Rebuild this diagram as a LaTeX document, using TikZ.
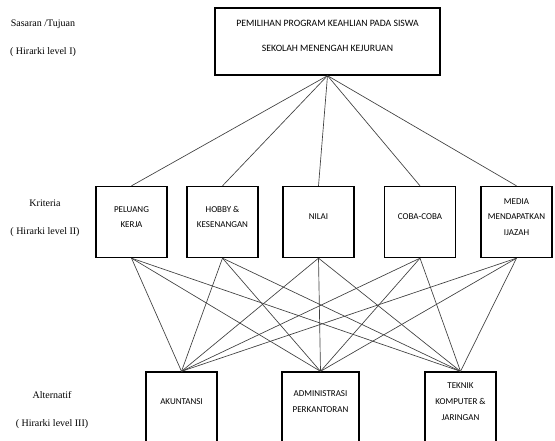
\documentclass[tikz,border=0pt]{standalone}
\usepackage{fontspec}
\setmainfont{Liberation Serif}
\newfontfamily\calibrifont{Carlito}
\usepackage{tikz}

\tikzset{
  kotak/.style={draw, line width=1pt, align=center, inner sep=0pt},
  garis/.style={draw=black!75, line width=0.5pt},
  labellevel/.style={align=center, font=\fontsize{7.5}{21}\selectfont},
  kriteria/.style={kotak, minimum width=53.25pt, minimum height=53.25pt, text depth=7.5pt,
    font=\calibrifont\fontsize{6.75}{11.6}\selectfont},
  alternatif/.style={kotak, minimum width=53.25pt, minimum height=67.5pt, text depth=22.5pt,
    font=\calibrifont\fontsize{6.75}{12}\selectfont},
}

\begin{document}
\begin{tikzpicture}[x=0.75pt,y=0.75pt,yscale=-1,xscale=1]
\useasboundingbox (0,0) rectangle (555,441);

% Text Node
\node (lvlI) [labellevel] at (43,38.5) {Sasaran /Tujuan\\( Hirarki level I)};
% Text Node
\node (lvlII) [labellevel] at (45,218) {Kriteria\\( Hirarki level II)};
% Text Node
\node (lvlIII) [labellevel] at (52,410) {Alternatif\\( Hirarki level III)};

%Shape: Rectangle
\node (tujuan) [kotak, minimum width=168.75pt, minimum height=50.25pt, text depth=9pt,
  font=\calibrifont\fontsize{7.3}{18.75}\selectfont] at (327.5,41.5)
  {PEMILIHAN PROGRAM KEAHLIAN PADA SISWA\\SEKOLAH MENENGAH KEJURUAN};

%Shape: Rectangle
\node (peluang) [kriteria] at (131.5,222) {PELUANG\\KERJA};
%Shape: Rectangle
\node (hobby) [kriteria] at (222.5,222) {HOBBY \&\\KESENANGAN};
%Shape: Rectangle
\node (nilai) [kriteria] at (318.5,222) {NILAI};
%Shape: Rectangle
\node (coba) [kriteria] at (420,222) {COBA-COBA};
%Shape: Rectangle
\node (media) [kriteria] at (516.5,222) {MEDIA\\MENDAPATKAN\\IJAZAH};

%Shape: Rectangle
\node (akuntansi) [alternatif] at (181.5,417) {AKUNTANSI};
%Shape: Rectangle
\node (adm) [alternatif, minimum width=57.75pt] at (320.5,417) {ADMINISTRASI\\PERKANTORAN};
%Shape: Rectangle
\node (tkj) [alternatif] at (460.5,417) {TEKNIK\\KOMPUTER \&\\JARINGAN};

%Straight Lines
\draw [garis] (tujuan.south) -- (peluang.north);
\draw [garis] (tujuan.south) -- (hobby.north);
\draw [garis] (tujuan.south) -- (nilai.north);
\draw [garis] (tujuan.south) -- (coba.north);
\draw [garis] (tujuan.south) -- (media.north);

%Straight Lines
\draw [garis] (peluang.south) -- (akuntansi.north);
\draw [garis] (peluang.south) -- (adm.north);
\draw [garis] (peluang.south) -- (tkj.north);
\draw [garis] (hobby.south) -- (akuntansi.north);
\draw [garis] (hobby.south) -- (adm.north);
\draw [garis] (hobby.south) -- (tkj.north);
\draw [garis] (nilai.south) -- (akuntansi.north);
\draw [garis] (nilai.south) -- (adm.north);
\draw [garis] (nilai.south) -- (tkj.north);
\draw [garis] (coba.south) -- (akuntansi.north);
\draw [garis] (coba.south) -- (adm.north);
\draw [garis] (coba.south) -- (tkj.north);
\draw [garis] (media.south) -- (akuntansi.north);
\draw [garis] (media.south) -- (adm.north);
\draw [garis] (media.south) -- (tkj.north);

\end{tikzpicture}
\end{document}
